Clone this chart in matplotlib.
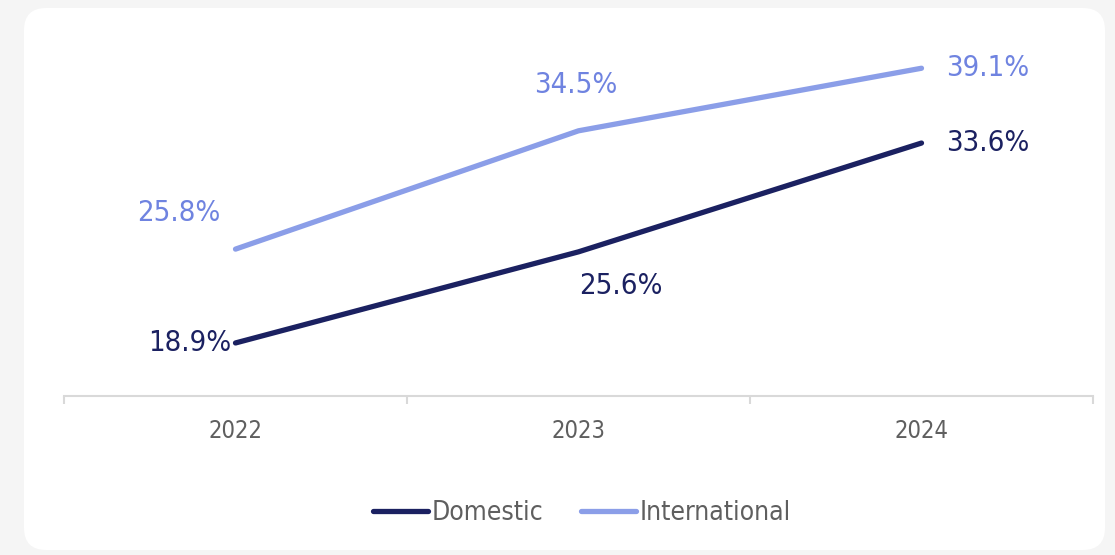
import matplotlib
matplotlib.use("Agg")
import matplotlib.pyplot as plt
from matplotlib.patches import FancyBboxPatch

# Share of revenue by segment
years = ["2022", "2023", "2024"]
domestic = [18.9, 25.6, 33.6]
international = [25.8, 34.5, 39.1]

dom_color = "#1b2161"
intl_color = "#8b9ee8"
intl_text = "#6f83e0"
grey_text = "#5f5f5f"
axis_grey = "#d9d9d9"

plt.rcParams["font.family"] = ["DejaVu Sans"]
plt.rcParams["font.stretch"] = "condensed"

W, H = 1115, 555
fig = plt.figure(figsize=(W / 100, H / 100), dpi=100)
fig.patch.set_facecolor("#f5f5f5")

# White rounded card behind the chart
card = FancyBboxPatch((24 / W, (H - 550) / H), (1105 - 24) / W, (550 - 8) / H,
                      boxstyle="round,pad=0,rounding_size=0.02",
                      transform=fig.transFigure, facecolor="white",
                      edgecolor="none", zorder=-5, mutation_aspect=W / H)
fig.patches.append(card)

ax = fig.add_axes([64 / W, (H - 396) / H, (1093 - 64) / W, (396 - 56) / H])
ax.set_facecolor("none")

x = list(range(len(years)))
ax.plot(x, domestic, color=dom_color, lw=3.8, solid_capstyle="round",
        solid_joinstyle="round", label="Domestic", zorder=3)
ax.plot(x, international, color=intl_color, lw=3.8, solid_capstyle="round",
        solid_joinstyle="round", label="International", zorder=3)

ax.set_xlim(-0.5, len(years) - 0.5)
ax.set_ylim(15, 40)

for s in ["top", "right", "left"]:
    ax.spines[s].set_visible(False)
ax.spines["bottom"].set_color(axis_grey)
ax.spines["bottom"].set_linewidth(1.5)
ax.set_yticks([])

ax.set_xticks(x)
ax.set_xticklabels(years, fontsize=17, color=grey_text)
ax.tick_params(axis="x", which="major", length=0, pad=16.5)
ax.set_xticks([i - 0.5 for i in range(len(years) + 1)], minor=True)
ax.tick_params(axis="x", which="minor", length=6, width=1.5, color=axis_grey,
               direction="out")

k = 0.72  # pixels to points at 100 dpi
dom_offsets = [((-4 * k, 0), "right", "center"),
               ((42 * k, -34 * k), "center", "center"),
               ((25 * k, 0), "left", "center")]
intl_offsets = [((-57 * k, 36 * k), "center", "center"),
                ((-3 * k, 46 * k), "center", "center"),
                ((25 * k, 0), "left", "center")]

for xi, v, (off, ha, va) in zip(x, domestic, dom_offsets):
    ax.annotate(f"{v:.1f}%", (xi, v), xytext=off, textcoords="offset points",
                ha=ha, va=va, fontsize=21, color=dom_color)
for xi, v, (off, ha, va) in zip(x, international, intl_offsets):
    ax.annotate(f"{v:.1f}%", (xi, v), xytext=off, textcoords="offset points",
                ha=ha, va=va, fontsize=21, color=intl_text)

leg = fig.legend(loc="center", bbox_to_anchor=(582 / W, (H - 513) / H),
                 ncol=2, frameon=False, fontsize=19, handlelength=2.1,
                 handletextpad=0.15, columnspacing=1.4)
for t in leg.get_texts():
    t.set_color(grey_text)
for line in leg.get_lines():
    line.set_linewidth(3.8)
    line.set_solid_capstyle("round")

fig.savefig("out.png", dpi=100, facecolor=fig.get_facecolor())
